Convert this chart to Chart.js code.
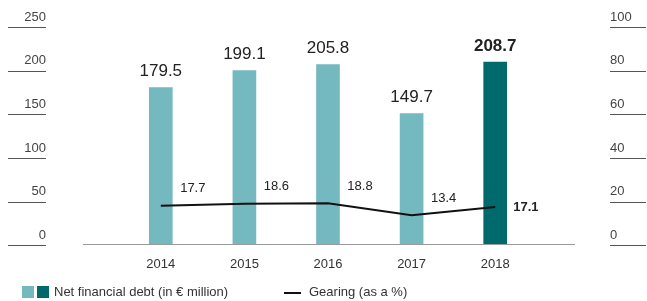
<!DOCTYPE html>
<html>
<head>
  <meta charset="UTF-8" />
  <title>Net financial debt and gearing</title>
  <style>
    body { margin: 0; background: #fff; font-family: 'Liberation Sans', Arial, sans-serif; }
    #wrap { position: relative; width: 647px; height: 301px; }
    #legend { position: absolute; left: 0; top: 284px; width: 647px; height: 16px; font-size: 13px; color: #333; }
    .sq { position: absolute; top: 2px; width: 12px; height: 12px; }
    .txt { position: absolute; top: 0; line-height: 16px; }
    .ln { position: absolute; top: 8px; width: 17px; height: 2px; background: #111; }
  </style>
</head>
<body>
  <div id="wrap">
    <canvas id="chart" width="647" height="301"></canvas>
    <div id="legend">
      <div class="sq" style="left:22px;background:#74b9c0"></div>
      <div class="sq" style="left:37px;background:#00696b"></div>
      <div class="txt" style="left:54px">Net financial debt (in € million)</div>
      <div class="ln" style="left:284px"></div>
      <div class="txt" style="left:309px">Gearing (as a %)</div>
    </div>
  </div>
  <script src="https://cdn.jsdelivr.net/npm/chart.js"></script>
  <script>
    const years = ['2014', '2015', '2016', '2017', '2018'];
    const netDebt = [179.5, 199.1, 205.8, 149.7, 208.7];
    const gearing = [17.7, 18.6, 18.8, 13.4, 17.1];

    const font = "'Liberation Sans', Arial, sans-serif";

    // little underlines below the axis labels, plus the long baseline
    const decor = {
      id: 'decor',
      afterDraw(chart) {
        const ctx = chart.ctx;
        ctx.save();
        ctx.strokeStyle = '#555';
        ctx.lineWidth = 1;
        const y = chart.scales.y, y2 = chart.scales.y2;
        y.ticks.forEach(t => {
          const py = Math.round(y.getPixelForValue(t.value)) + 1.5;
          ctx.beginPath(); ctx.moveTo(8, py); ctx.lineTo(46, py); ctx.stroke();
        });
        y2.ticks.forEach(t => {
          const py = Math.round(y2.getPixelForValue(t.value)) + 1.5;
          ctx.beginPath(); ctx.moveTo(610, py); ctx.lineTo(646, py); ctx.stroke();
        });
        const by = Math.round(y.getPixelForValue(0)) + 0.5;
        ctx.strokeStyle = '#999';
        ctx.beginPath(); ctx.moveTo(chart.chartArea.left - 36, by); ctx.lineTo(chart.chartArea.right + 38, by); ctx.stroke();
        ctx.restore();
      }
    };

    const valueLabels = {
      id: 'valueLabels',
      afterDatasetsDraw(chart) {
        const ctx = chart.ctx;
        ctx.save();
        ctx.fillStyle = '#222';
        ctx.textAlign = 'center';
        ctx.textBaseline = 'middle';
        chart.getDatasetMeta(0).data.forEach((el, i) => {
          ctx.font = (i === 4 ? 'bold ' : '') + '17px ' + font;
          ctx.fillText(netDebt[i].toFixed(1), el.x, el.y - 16);
        });
        chart.getDatasetMeta(1).data.forEach((el, i) => {
          if (i === 4) {
            ctx.font = 'bold 13px ' + font;
            ctx.textAlign = 'left';
            ctx.fillText(gearing[i].toFixed(1), el.x + 18, el.y);
          } else {
            ctx.font = '13px ' + font;
            ctx.textAlign = 'center';
            ctx.fillText(gearing[i].toFixed(1), el.x + 32, el.y - 17);
          }
        });
        ctx.restore();
      }
    };

    // the big tick padding is only meant horizontally
    function fitY(width) {
      return s => { s.width = width; s.paddingTop = 0; s.paddingBottom = 0; };
    }

    new Chart(document.getElementById('chart'), {
      data: {
        labels: years,
        datasets: [{
          type: 'bar',
          data: netDebt,
          yAxisID: 'y',
          backgroundColor: ['#74b9c0', '#74b9c0', '#74b9c0', '#74b9c0', '#00696b'],
          barThickness: 23,
          order: 1
        }, {
          type: 'line',
          data: gearing,
          yAxisID: 'y2',
          borderColor: '#111',
          borderWidth: 2,
          pointRadius: 0,
          tension: 0,
          order: 0
        }]
      },
      options: {
        responsive: false,
        animation: false,
        layout: { padding: { top: 26, bottom: 17, left: 0, right: 0 } },
        plugins: { legend: { display: false }, tooltip: { enabled: false } },
        scales: {
          x: {
            grid: { display: false, drawTicks: false },
            border: { display: false },
            ticks: { padding: 12, color: '#333', font: { family: font, size: 13 } }
          },
          y: {
            position: 'left',
            min: 0, max: 250,
            ticks: { stepSize: 50, padding: 73, labelOffset: -9, color: '#444', font: { family: font, size: 13 } },
            grid: { display: false, drawTicks: false },
            border: { display: false },
            afterFit: fitY(119)
          },
          y2: {
            position: 'right',
            min: 0, max: 100,
            ticks: { stepSize: 20, padding: 73, labelOffset: -9, color: '#444', font: { family: font, size: 13 } },
            grid: { display: false, drawTicks: false },
            border: { display: false },
            afterFit: fitY(110)
          }
        }
      },
      plugins: [decor, valueLabels]
    });
  </script>
</body>
</html>
